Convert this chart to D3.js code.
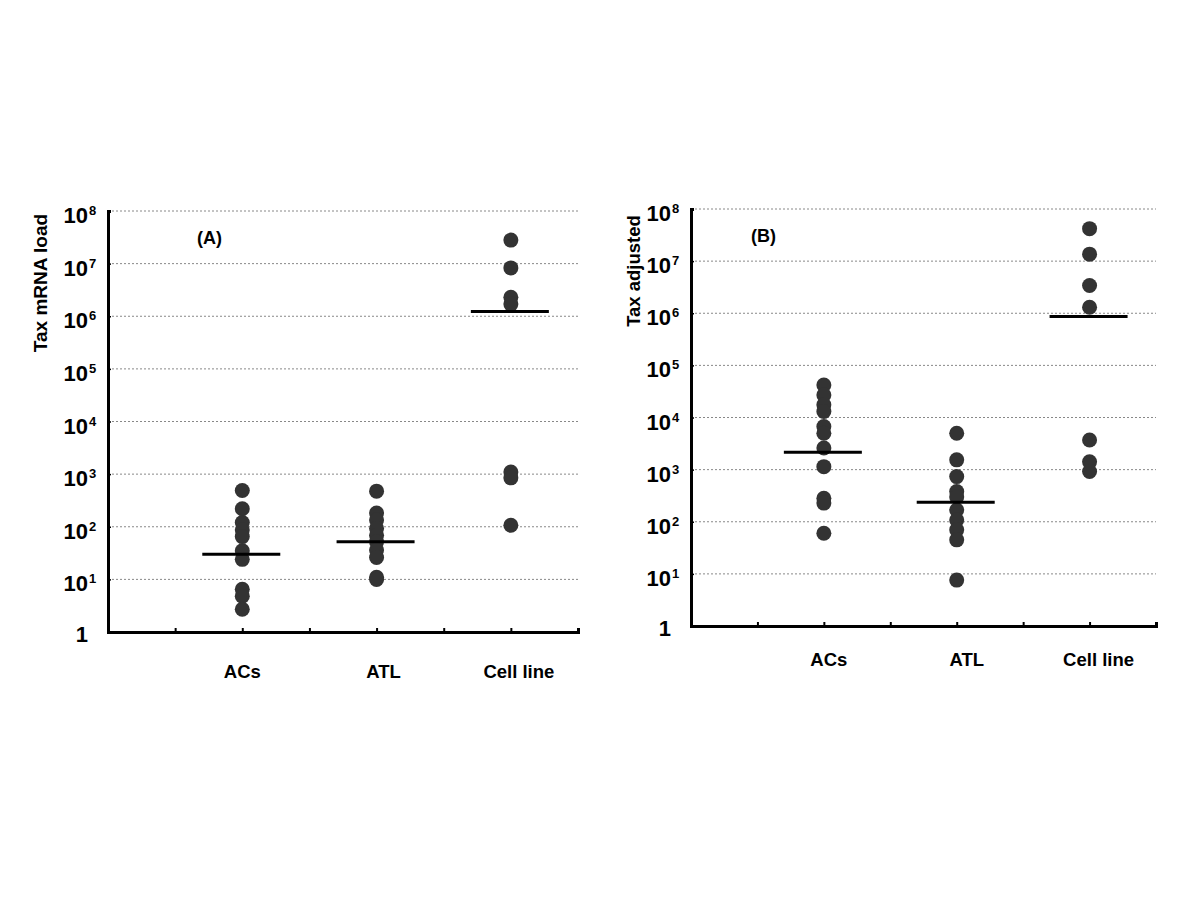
<!DOCTYPE html>
<html>
<head>
<meta charset="utf-8">
<script src="https://cdn.jsdelivr.net/npm/d3@7"></script>
<style>
  body { margin: 0; background: #fff; }
  svg { font-family: Arial, "Liberation Sans", sans-serif; }
</style>
</head>
<body>
<svg id="chart" width="1200" height="900"></svg>
<script>
// categories and their position on the x axis (axis runs 0..7)
const groups = ["ACs", "ATL", "Cell line"];
const groupPos = [2, 4, 6];
const decades = [0, 1, 2, 3, 4, 5, 6, 7, 8];

// panel A: Tax mRNA load
const aACs = [490, 220, 120, 87, 65, 35, 24, 6.5, 4.8, 2.7];
const aATL = [475, 183, 134, 93, 69, 52, 36, 26, 11, 10];
const aCell = [28000000, 8300000, 2300000, 1700000, 1100, 850, 107];
const aMeans = [30, 52, 1230000];

// panel B: Tax adjusted
const bACs = [42000, 27000, 17500, 13000, 6700, 5000, 2600, 1140, 283, 228, 60];
const bATL = [5000, 1540, 735, 380, 300, 168, 108, 70, 45, 7.6];
const bCell = [42000000, 13600000, 3400000, 1300000, 3700, 1420, 920];
const bMeans = [2150, 236, 870000];

const svg = d3.select("#chart");

function panel(cfg) {
    const g = svg.append("g");
    const x = d3.scaleLinear().domain([0, 7]).range([cfg.left, cfg.right]);
    const y = d3.scaleLog().domain([1, 1e8]).range([cfg.bottom, cfg.top]);

    // gridlines (dotted)
    g.selectAll("line.grid")
        .data(decades.slice(1))
        .join("line")
        .attr("x1", cfg.left)
        .attr("x2", cfg.right)
        .attr("y1", d => y(Math.pow(10, d)))
        .attr("y2", d => y(Math.pow(10, d)))
        .attr("stroke", "#888")
        .attr("stroke-width", 1)
        .attr("stroke-dasharray", "2,2");

    // y axis
    const yAxis = d3.axisRight(y)
        .tickValues(decades.map(d => Math.pow(10, d)))
        .tickSize(3)
        .tickFormat("");
    const ya = g.append("g").attr("transform", `translate(${cfg.left},0)`).call(yAxis);
    ya.select(".domain").attr("stroke", "#000").attr("stroke-width", 3);
    ya.selectAll(".tick line").attr("stroke", "#000").attr("stroke-width", 1.5);

    // y tick labels 10^n : base "10" right-aligned, exponent hanging to the right
    g.selectAll("text.ylab")
        .data(decades)
        .join("text")
        .attr("x", cfg.left - 20)
        .attr("y", d => y(Math.pow(10, d)) + (d === 0 ? 10 : 12))
        .attr("text-anchor", "end")
        .attr("font-size", 22)
        .attr("font-weight", "bold")
        .attr("fill", "#000")
        .text(d => d === 0 ? "1" : "10");
    g.selectAll("text.yexp")
        .data(decades.slice(1))
        .join("text")
        .attr("x", cfg.left - 19)
        .attr("y", d => y(Math.pow(10, d)) + 4)
        .attr("font-size", 13)
        .attr("font-weight", "bold")
        .attr("fill", "#000")
        .text(d => d);

    // x axis
    const xAxis = d3.axisTop(x).tickValues([1, 2, 3, 4, 5, 6, 7]).tickSize(4).tickFormat("");
    const xa = g.append("g").attr("transform", `translate(0,${cfg.bottom})`).call(xAxis);
    xa.select(".domain").attr("stroke", "#000").attr("stroke-width", 3);
    xa.selectAll(".tick line").attr("stroke", "#000").attr("stroke-width", 2);

    g.selectAll("text.xlab")
        .data(groups)
        .join("text")
        .attr("x", (d, i) => x(groupPos[i]) + cfg.labelShift[i])
        .attr("y", cfg.bottom + cfg.labelDrop)
        .attr("text-anchor", "middle")
        .attr("font-size", 18.5)
        .attr("font-weight", "bold")
        .text(d => d);

    // dots
    cfg.series.forEach((vals, i) => {
        g.selectAll(null)
            .data(vals)
            .join("circle")
            .attr("cx", x(groupPos[i]))
            .attr("cy", d => y(d))
            .attr("r", 7.5)
            .attr("fill", "#333");
    });

    // mean lines
    g.selectAll("line.mean")
        .data(cfg.means)
        .join("line")
        .attr("x1", (d, i) => x(groupPos[i]) - 40)
        .attr("x2", (d, i) => x(groupPos[i]) + 38)
        .attr("y1", d => y(d))
        .attr("y2", d => y(d))
        .attr("stroke", "#000")
        .attr("stroke-width", 3);

    // panel letter
    g.append("text")
        .attr("x", cfg.letterX)
        .attr("y", cfg.top + 33)
        .attr("font-size", 18)
        .attr("font-weight", "bold")
        .text(cfg.letter);

    // y title
    g.append("text")
        .attr("transform", `translate(${cfg.titleX},${cfg.titleY}) rotate(-90)`)
        .attr("text-anchor", "middle")
        .attr("font-size", cfg.titleSize)
        .attr("font-weight", "bold")
        .text(cfg.title);
}

panel({
    left: 108, right: 578, top: 211, bottom: 632,
    series: [aACs, aATL, aCell], means: aMeans,
    labelShift: [0, 7, 8], labelDrop: 46,
    letter: "(A)", letterX: 197, title: "Tax mRNA load", titleX: 47, titleY: 283, titleSize: 19
});

panel({
    left: 691, right: 1156, top: 209, bottom: 626,
    series: [bACs, bATL, bCell], means: bMeans,
    labelShift: [5, 10, 9], labelDrop: 40,
    letter: "(B)", letterX: 751, title: "Tax adjusted", titleX: 640, titleY: 271, titleSize: 18.5
});
</script>
</body>
</html>
